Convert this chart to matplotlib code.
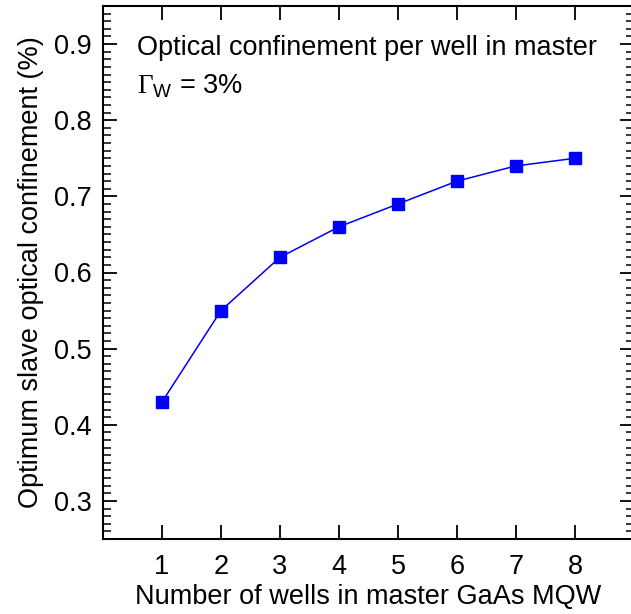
import matplotlib
matplotlib.use("Agg")
import matplotlib.pyplot as plt
from matplotlib.ticker import MultipleLocator

plt.rcParams['font.family'] = ['Liberation Sans', 'DejaVu Sans']
plt.rcParams['mathtext.fontset'] = 'custom'
plt.rcParams['mathtext.rm'] = 'Liberation Serif'
plt.rcParams['mathtext.sf'] = 'Liberation Sans'

# Number of quantum wells in the master section and the optimum slave confinement
wells = [1, 2, 3, 4, 5, 6, 7, 8]
slave_confinement = [0.43, 0.55, 0.62, 0.66, 0.69, 0.72, 0.74, 0.75]
x_ticks = [1, 2, 3, 4, 5, 6, 7, 8]
y_ticks = [0.3, 0.4, 0.5, 0.6, 0.7, 0.8, 0.9]

W, H = 631, 614
fig = plt.figure(figsize=(W / 100, H / 100), dpi=100)
ax = fig.add_axes([103 / W, (H - 539) / H, (634 - 103) / W, (539 - 6) / H])

ax.plot(wells, slave_confinement, color='#0000ee', lw=1.1, marker='s',
        markersize=8.5, markerfacecolor='#0000ff', markeredgecolor='#0000ff')

ax.set_xlim(0, 9)
ax.set_ylim(0.25, 0.95)
ax.set_xticks(x_ticks)
ax.set_yticks(y_ticks)
ax.set_yticklabels([f"{v:.1f}" for v in y_ticks])
ax.yaxis.set_minor_locator(MultipleLocator(0.01))

ax.tick_params(axis='both', which='major', direction='in', length=10, width=1.3,
               labelsize=19.5, top=True, right=True)
ax.tick_params(axis='y', which='minor', direction='in', length=6, width=1.1,
               right=True, left=True)
ax.tick_params(axis='x', which='major', pad=11)
ax.tick_params(axis='y', which='major', pad=8)
for s in ax.spines.values():
    s.set_linewidth(1.5)

ax.set_xlabel('Number of wells in master GaAs MQW', fontsize=19.5, labelpad=3)
ax.set_ylabel('Optimum slave optical confinement (%)', fontsize=19.5, labelpad=7)

ax.text(0.58, 0.895, 'Optical confinement per well in master', fontsize=19.5,
        ha='left', va='center')
ax.text(0.58, 0.844, r'$\Gamma_{\mathsf{W}}$ = 3%', fontsize=19.5,
        ha='left', va='center')

fig.savefig('out.png', dpi=100)
